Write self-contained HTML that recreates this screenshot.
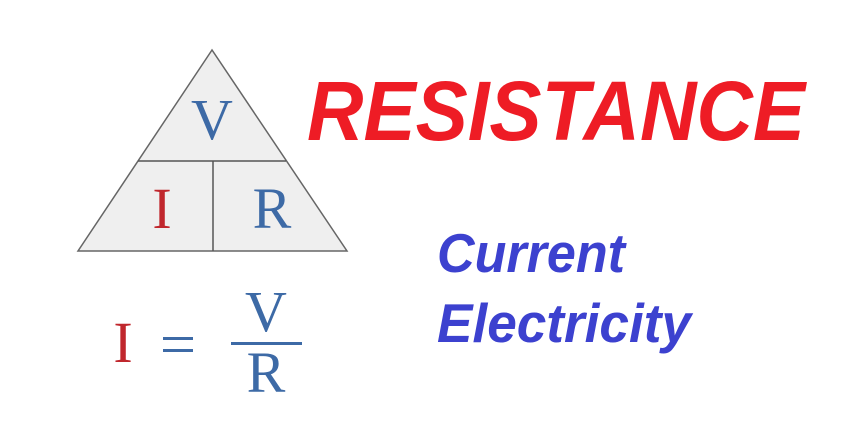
<!DOCTYPE html>
<html><head><meta charset="utf-8"><style>html,body{margin:0;padding:0;background:#fff}</style></head>
<body>
<svg width="856" height="441" viewBox="0 0 856 441" xmlns="http://www.w3.org/2000/svg">
<rect width="856" height="441" fill="#fff"/>
<polygon points="212,50 78,251 347,251" fill="#efefef" stroke="#666" stroke-width="1.5"/>
<line x1="138" y1="161" x2="286" y2="161" stroke="#555" stroke-width="1.5"/>
<line x1="213" y1="161" x2="213" y2="251" stroke="#555" stroke-width="1.5"/>
<g font-family="Liberation Serif, serif" font-size="58" text-anchor="middle">
<text x="212" y="139" fill="#3d6aa6">V</text>
<text x="162" y="228" fill="#c0272d">I</text>
<text x="272" y="228" fill="#3d6aa6">R</text>
<text x="123" y="362" fill="#c0272d">I</text>
<text x="266" y="331" fill="#3d6aa6">V</text>
<text x="266" y="392" fill="#3d6aa6">R</text>
</g>
<rect x="163" y="337" width="30" height="3" fill="#3d6aa6"/>
<rect x="163" y="349" width="30" height="3" fill="#3d6aa6"/>
<rect x="231" y="342" width="71" height="3" fill="#3d6aa6"/>
<g font-family="Liberation Sans, sans-serif" font-style="italic" font-weight="bold">
<text x="307" y="140" font-size="84" fill="#ee1c25" textLength="498" lengthAdjust="spacingAndGlyphs">RESISTANCE</text>
<text x="437" y="272" font-size="55" fill="#3c41cf" textLength="188" lengthAdjust="spacingAndGlyphs">Current</text>
<text x="437" y="342" font-size="55" fill="#3c41cf" textLength="254" lengthAdjust="spacingAndGlyphs">Electricity</text>
</g>
</svg>
</body></html>
